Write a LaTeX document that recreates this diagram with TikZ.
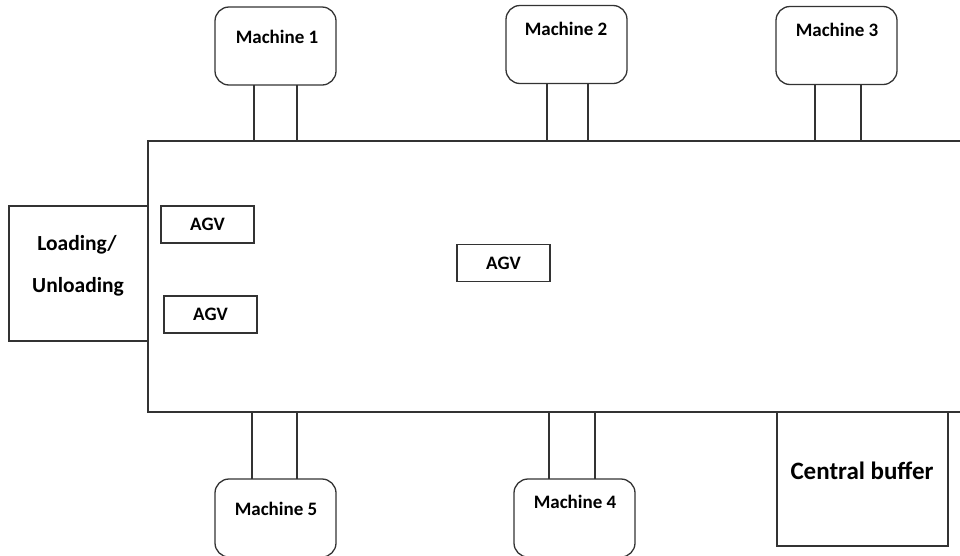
\documentclass[tikz,border=0pt]{standalone}
\usepackage{fontspec}
\setmainfont{Carlito}
\definecolor{ln}{HTML}{333333}
\begin{document}
\begin{tikzpicture}[x=1pt,y=-1pt,
  every node/.style={inner sep=0pt, outer sep=0pt},
  machine/.style={draw=ln, line width=1.3pt, rounded corners=14pt, minimum width=121pt, minimum height=78pt},
  plainbox/.style={draw=ln, line width=1.3pt},
  agvbox/.style={draw=ln, line width=1.8pt, minimum width=93pt, minimum height=37pt, font=\fontsize{19}{22}\selectfont\bfseries},
  lbl/.style={font=\fontsize{19}{22}\selectfont\bfseries},
  biglbl/.style={font=\fontsize{21.5}{25}\selectfont\bfseries},
  link/.style={draw=ln, line width=1.3pt}]
\useasboundingbox (0,0) rectangle (960,555);
\clip (0,0) rectangle (960,555);
% main area
\node[plainbox, minimum width=872pt, minimum height=271pt] (main) at (584,276.5) {};
% loading
\node[plainbox, minimum width=139pt, minimum height=135pt] (load) at (78.5,273.5) {};
\node[biglbl] (loadt1) at (77,245) {Loading/};
\node[biglbl] (loadt2) at (78,287) {Unloading};
% AGVs
\node[agvbox] (agv1) at (207.5,224.5) {AGV};
\node[agvbox] (agv2) at (210.5,314.5) {AGV};
\node[agvbox] (agv3) at (503.5,263) {AGV};
% top machines
\node[machine] (m1) at (275.5,46) {};
\node[lbl] (m1t) at (277,37) {Machine 1};
\node[machine] (m2) at (566.5,44.5) {};
\node[lbl] (m2t) at (566,29) {Machine 2};
\node[machine] (m3) at (836.5,45.5) {};
\node[lbl] (m3t) at (837,30) {Machine 3};
% bottom machines
\node[machine] (m5) at (275.5,518) {};
\node[lbl] (m5t) at (276,509) {Machine 5};
\node[machine] (m4) at (574.5,518) {};
\node[lbl] (m4t) at (575,502) {Machine 4};
% central buffer
\node[plainbox, minimum width=171pt, minimum height=134pt] (buf) at (862.5,479) {};
\node[font=\fontsize{25}{29}\selectfont\bfseries] (buft) at (862,471) {Central buffer};
% connectors
\foreach \m/\a/\b in {m1/254/297, m2/547/588, m3/815/861}{
  \draw[link] (\a,0 |- \m.south) -- (\a,0 |- main.north);
  \draw[link] (\b,0 |- \m.south) -- (\b,0 |- main.north);
}
\foreach \m/\a/\b in {m5/252/297, m4/549/595}{
  \draw[link] (\a,0 |- main.south) -- (\a,0 |- \m.north);
  \draw[link] (\b,0 |- main.south) -- (\b,0 |- \m.north);
}
\end{tikzpicture}
\end{document}
